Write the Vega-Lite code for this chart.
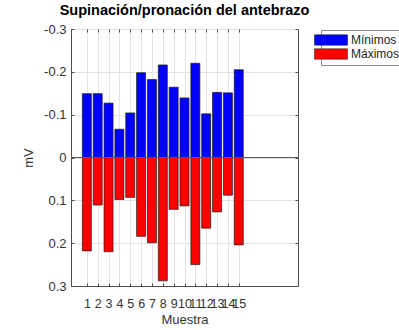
{
  "$schema": "https://vega.github.io/schema/vega-lite/v6.json",
  "width": 227,
  "height": 257,
  "autosize": {"type": "none"},
  "padding": {"left": 71, "top": 29, "right": 101, "bottom": 44},
  "background": "white",
  "title": {
    "text": "Supinación/pronación del antebrazo",
    "font": "Liberation Sans",
    "fontSize": 14.5,
    "fontWeight": "bold",
    "color": "#000000",
    "anchor": "middle",
    "offset": 5
  },
  "config": {
    "font": "Liberation Sans",
    "view": {"stroke": "#4d4d4d", "strokeWidth": 1},
    "axis": {
      "labelFont": "Liberation Sans",
      "titleFont": "Liberation Sans",
      "labelFontSize": 13,
      "titleFontSize": 13,
      "titleFontWeight": "normal",
      "labelColor": "#333333",
      "titleColor": "#333333",
      "domainColor": "#4d4d4d",
      "tickColor": "#4d4d4d",
      "gridColor": "#e3e3e3",
      "gridWidth": 1
    }
  },
  "data": {
    "values": [
      {"muestra": 1, "serie": "Mínimos", "valor": -0.149},
      {"muestra": 2, "serie": "Mínimos", "valor": -0.149},
      {"muestra": 3, "serie": "Mínimos", "valor": -0.127},
      {"muestra": 4, "serie": "Mínimos", "valor": -0.066},
      {"muestra": 5, "serie": "Mínimos", "valor": -0.104},
      {"muestra": 6, "serie": "Mínimos", "valor": -0.198},
      {"muestra": 7, "serie": "Mínimos", "valor": -0.182},
      {"muestra": 8, "serie": "Mínimos", "valor": -0.216},
      {"muestra": 9, "serie": "Mínimos", "valor": -0.164},
      {"muestra": 10, "serie": "Mínimos", "valor": -0.139},
      {"muestra": 11, "serie": "Mínimos", "valor": -0.220},
      {"muestra": 12, "serie": "Mínimos", "valor": -0.102},
      {"muestra": 13, "serie": "Mínimos", "valor": -0.152},
      {"muestra": 14, "serie": "Mínimos", "valor": -0.151},
      {"muestra": 15, "serie": "Mínimos", "valor": -0.205},
      {"muestra": 1, "serie": "Máximos", "valor": 0.218},
      {"muestra": 2, "serie": "Máximos", "valor": 0.111},
      {"muestra": 3, "serie": "Máximos", "valor": 0.220},
      {"muestra": 4, "serie": "Máximos", "valor": 0.098},
      {"muestra": 5, "serie": "Máximos", "valor": 0.093},
      {"muestra": 6, "serie": "Máximos", "valor": 0.184},
      {"muestra": 7, "serie": "Máximos", "valor": 0.199},
      {"muestra": 8, "serie": "Máximos", "valor": 0.288},
      {"muestra": 9, "serie": "Máximos", "valor": 0.121},
      {"muestra": 10, "serie": "Máximos", "valor": 0.113},
      {"muestra": 11, "serie": "Máximos", "valor": 0.250},
      {"muestra": 12, "serie": "Máximos", "valor": 0.165},
      {"muestra": 13, "serie": "Máximos", "valor": 0.127},
      {"muestra": 14, "serie": "Máximos", "valor": 0.088},
      {"muestra": 15, "serie": "Máximos", "valor": 0.204}
    ]
  },
  "layer": [
    {
      "mark": {"type": "bar", "orient": "vertical", "size": 9, "stroke": "#1a1a1a", "strokeWidth": 0.7},
      "encoding": {
        "x": {
          "field": "muestra",
          "type": "quantitative",
          "scale": {"domain": [0, 20], "nice": false, "zero": false},
          "axis": {
            "title": "Muestra",
            "values": [1, 2, 3, 4, 5, 6, 7, 8, 9, 10, 11, 12, 13, 14, 15],
            "format": "d",
            "labelFontSize": 12.5,
            "labelOverlap": false,
            "labelBound": false,
            "labelFlush": false,
            "tickSize": -3,
            "labelPadding": 14,
            "titlePadding": 4,
            "grid": true
          }
        },
        "y": {
          "field": "valor",
          "type": "quantitative",
          "scale": {"domain": [-0.3, 0.3], "nice": false, "reverse": true},
          "axis": {
            "title": "mV",
            "values": [-0.3, -0.2, -0.1, 0, 0.1, 0.2, 0.3],
            "labelExpr": "'' + datum.value",
            "labelOverlap": false,
            "labelFlush": false,
            "tickSize": -3,
            "labelPadding": 8,
            "titlePadding": 8,
            "grid": true
          }
        },
        "y2": {"datum": 0},
        "color": {
          "field": "serie",
          "type": "nominal",
          "scale": {"domain": ["Mínimos", "Máximos"], "range": ["#0000ff", "#ff0000"]},
          "legend": {
            "title": null,
            "orient": "none",
            "legendX": 250,
            "legendY": 1,
            "symbolType": "M-3,-0.95H3V0.95H-3Z",
            "symbolSize": 121,
            "symbolStrokeColor": "#1a1a1a",
            "symbolStrokeWidth": 0.5,
            "symbolOpacity": 1,
            "labelFont": "Liberation Sans",
            "labelFontSize": 12,
            "labelColor": "#262626",
            "labelOffset": 14,
            "rowPadding": 0,
            "padding": 4,
            "strokeColor": "#8c8c8c",
            "fillColor": "white"
          }
        }
      }
    },
    {
      "mark": {"type": "rule", "color": "#595959", "strokeWidth": 1},
      "encoding": {"y": {"datum": 0, "axis": null}}
    },
    {
      "mark": {"type": "point", "opacity": 0},
      "encoding": {
        "x": {
          "field": "muestra",
          "type": "quantitative",
          "axis": {
            "orient": "top",
            "title": null,
            "labels": false,
            "domain": false,
            "grid": false,
            "values": [1, 2, 3, 4, 5, 6, 7, 8, 9, 10, 11, 12, 13, 14, 15],
            "tickSize": -3
          }
        },
        "y": {
          "field": "valor",
          "type": "quantitative",
          "axis": {
            "orient": "right",
            "title": null,
            "labels": false,
            "domain": false,
            "grid": false,
            "values": [-0.3, -0.2, -0.1, 0, 0.1, 0.2, 0.3],
            "tickSize": -3
          }
        }
      }
    }
  ],
  "resolve": {"axis": {"x": "independent", "y": "independent"}}
}
